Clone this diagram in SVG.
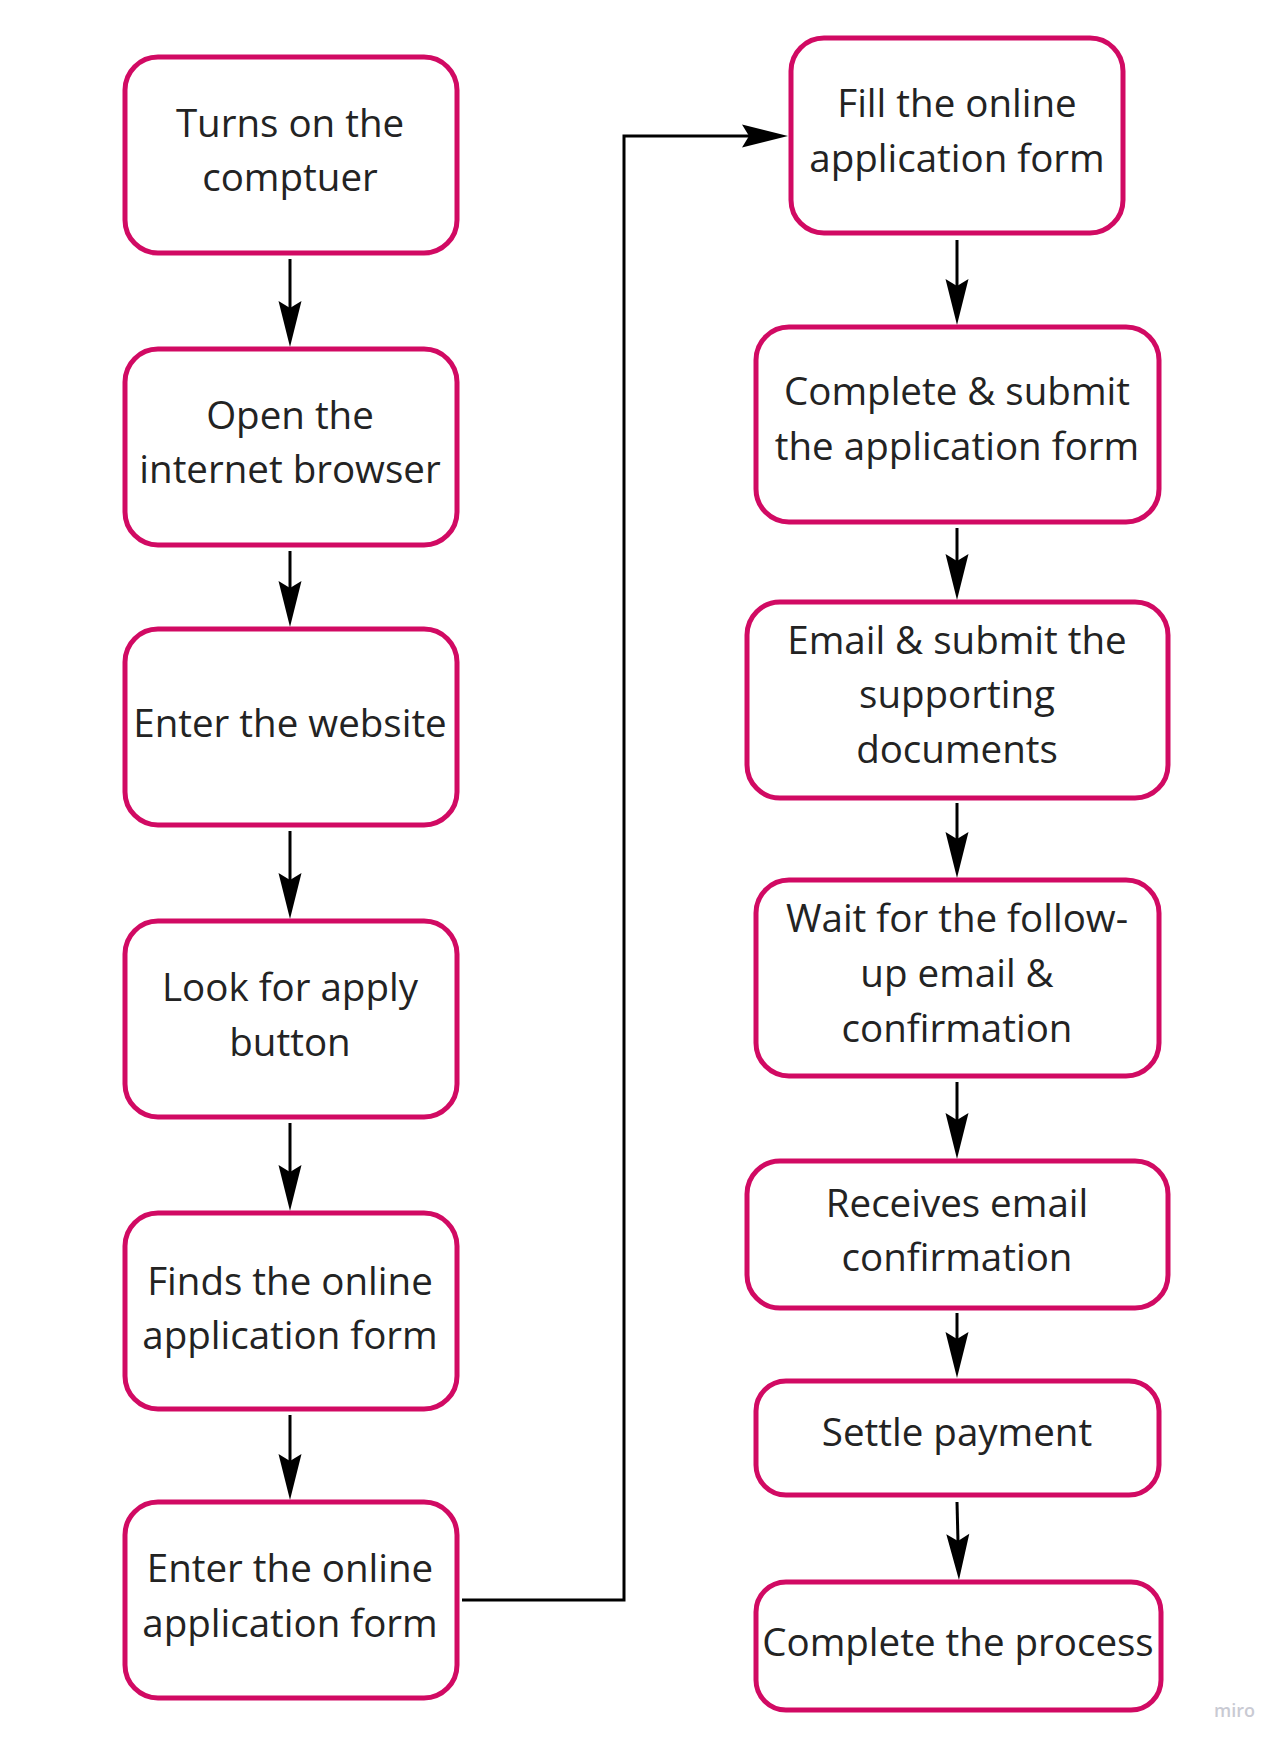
<svg xmlns="http://www.w3.org/2000/svg" width="1286" height="1748" viewBox="0 0 1286 1748">
<style>
.box{fill:#ffffff;stroke:#d10a63;stroke-width:5}
.lbl{font-family:"Open Sans","Liberation Sans",sans-serif;font-size:38.5px;fill:#232323;text-anchor:middle}
.con{fill:none;stroke:#000000;stroke-width:3}
.wm{font-family:"Open Sans","Liberation Sans",sans-serif;font-size:18px;fill:#c9cad3;font-weight:600}
</style>
<defs>
<marker id="ah" markerUnits="userSpaceOnUse" orient="auto" viewBox="-38 -12 49 24" markerWidth="49" markerHeight="24" refX="0" refY="0">
<path d="M10,0 L-36,-11.5 L-29,0 L-36,11.5 Z" fill="#000000"/>
</marker>
</defs>
<rect width="1286" height="1748" fill="#ffffff"/>

<g id="connectors">
<path class="con" marker-end="url(#ah)" d="M290,259 L290,337"/>
<path class="con" marker-end="url(#ah)" d="M290,551 L290,617"/>
<path class="con" marker-end="url(#ah)" d="M290,831 L290,909"/>
<path class="con" marker-end="url(#ah)" d="M290,1123 L290,1201"/>
<path class="con" marker-end="url(#ah)" d="M290,1415 L290,1490"/>
<path class="con" marker-end="url(#ah)" d="M462,1600 L624,1600 L624,136 L778,136"/>
<path class="con" marker-end="url(#ah)" d="M957,240 L957,315"/>
<path class="con" marker-end="url(#ah)" d="M957,528 L957,590"/>
<path class="con" marker-end="url(#ah)" d="M957,803 L957,868"/>
<path class="con" marker-end="url(#ah)" d="M957,1082 L957,1149"/>
<path class="con" marker-end="url(#ah)" d="M957,1313 L957,1368"/>
<path class="con" marker-end="url(#ah)" d="M957,1502 L958.7,1570"/>
</g>

<g id="n1"><rect class="box" x="125" y="57" width="332" height="196" rx="33"/>
<text class="lbl"><tspan x="290" y="137">Turns on the</tspan><tspan x="290" y="191">comptuer</tspan></text></g>
<g id="n2"><rect class="box" x="125" y="349" width="332" height="196" rx="33"/>
<text class="lbl"><tspan x="290" y="429">Open the</tspan><tspan x="290" y="483">internet browser</tspan></text></g>
<g id="n3"><rect class="box" x="125" y="629" width="332" height="196" rx="33"/>
<text class="lbl"><tspan x="290" y="737">Enter the website</tspan></text></g>
<g id="n4"><rect class="box" x="125" y="921" width="332" height="196" rx="33"/>
<text class="lbl"><tspan x="290" y="1001">Look for apply</tspan><tspan x="290" y="1056">button</tspan></text></g>
<g id="n5"><rect class="box" x="125" y="1213" width="332" height="196" rx="33"/>
<text class="lbl"><tspan x="290" y="1295">Finds the online</tspan><tspan x="290" y="1349">application form</tspan></text></g>
<g id="n6"><rect class="box" x="125" y="1502" width="332" height="196" rx="33"/>
<text class="lbl"><tspan x="290" y="1582">Enter the online</tspan><tspan x="290" y="1637">application form</tspan></text></g>

<g id="r1"><rect class="box" x="791" y="38" width="332" height="195" rx="33"/>
<text class="lbl"><tspan x="957" y="117">Fill the online</tspan><tspan x="957" y="172">application form</tspan></text></g>
<g id="r2"><rect class="box" x="756" y="327" width="403" height="195" rx="33"/>
<text class="lbl"><tspan x="957" y="405">Complete &amp; submit</tspan><tspan x="957" y="460">the application form</tspan></text></g>
<g id="r3"><rect class="box" x="747" y="602" width="421" height="196" rx="33"/>
<text class="lbl"><tspan x="957" y="654">Email &amp; submit the</tspan><tspan x="957" y="708">supporting</tspan><tspan x="957" y="763">documents</tspan></text></g>
<g id="r4"><rect class="box" x="756" y="880" width="403" height="196" rx="33"/>
<text class="lbl"><tspan x="957" y="932">Wait for the follow-</tspan><tspan x="957" y="987">up email &amp;</tspan><tspan x="957" y="1042">confirmation</tspan></text></g>
<g id="r5"><rect class="box" x="747" y="1161" width="421" height="147" rx="33"/>
<text class="lbl"><tspan x="957" y="1217">Receives email</tspan><tspan x="957" y="1271">confirmation</tspan></text></g>
<g id="r6"><rect class="box" x="756" y="1381" width="403" height="114" rx="30"/>
<text class="lbl"><tspan x="957" y="1446">Settle payment</tspan></text></g>
<g id="r7"><rect class="box" x="756" y="1582" width="405" height="128" rx="30"/>
<text class="lbl"><tspan x="958" y="1656">Complete the process</tspan></text></g>

<text class="wm" x="1214" y="1717">miro</text>
</svg>
